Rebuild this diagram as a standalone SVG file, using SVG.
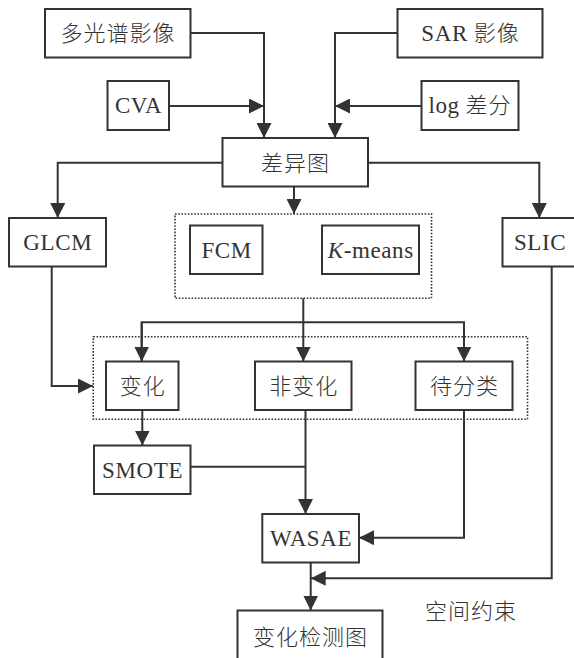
<svg xmlns="http://www.w3.org/2000/svg" width="574" height="658" viewBox="0 0 574 658">
<style>
.box{fill:#fff;stroke:#333;stroke-width:2}
.dot{fill:none;stroke:#333;stroke-width:1.6;stroke-dasharray:1.6,1.6}
.t{font-family:"Liberation Serif","Noto Sans CJK SC",serif;font-size:23px;fill:#333;text-anchor:middle;letter-spacing:0.6px}
.c{font-family:"Noto Sans CJK SC","Liberation Serif",sans-serif;font-size:22px;font-weight:300;fill:#333;text-anchor:middle;letter-spacing:1px}
.k{font-family:"Noto Sans CJK SC",sans-serif;font-size:22px;font-weight:300;letter-spacing:1px}
.ln{fill:none;stroke:#333;stroke-width:2}
</style>
<defs>
<marker id="ah" markerUnits="userSpaceOnUse" markerWidth="15" markerHeight="15" refX="14" refY="7" orient="auto" viewBox="0 0 14 14">
<path d="M0,0 L14,7 L0,14 z" fill="#333"/>
</marker>
</defs>
<rect class="dot" x="175" y="214" width="256.5" height="84.3"/>
<rect class="dot" x="93.3" y="336.7" width="434.2" height="82.6"/>
<g id="connectors">
<path class="ln" d="M190.5,33 H264 V138" marker-end="url(#ah)"/>
<path class="ln" d="M169,106 H264" marker-end="url(#ah)"/>
<path class="ln" d="M397.5,33 H335 V138" marker-end="url(#ah)"/>
<path class="ln" d="M421.5,106 H335" marker-end="url(#ah)"/>
<path class="ln" d="M222.5,162.7 H57.7 V218" marker-end="url(#ah)"/>
<path class="ln" d="M368,162.7 H539.3 V218" marker-end="url(#ah)"/>
<path class="ln" d="M294,186.5 V214" marker-end="url(#ah)"/>
<path class="ln" d="M51.7,266.5 V386 H93" marker-end="url(#ah)"/>
<path class="ln" d="M303.3,298.3 V361.5" marker-end="url(#ah)"/>
<path class="ln" d="M141.7,361.5 V322.3 H464 V361.5" marker-end="url(#ah)"/>
<path class="ln" d="M141.7,322.3 V361.5" marker-end="url(#ah)"/>
<path class="ln" d="M142.3,410 V445.5" marker-end="url(#ah)"/>
<path class="ln" d="M190.5,466.7 H305.5"/>
<path class="ln" d="M305.5,410 V514" marker-end="url(#ah)"/>
<path class="ln" d="M464,410 V537.7 H359" marker-end="url(#ah)"/>
<path class="ln" d="M310.7,562.5 V610.5" marker-end="url(#ah)"/>
<path class="ln" d="M551.7,266.5 V578.3 H310.7" marker-end="url(#ah)"/>
</g>
<g id="n_ms"><rect class="box" x="45" y="9" width="145.5" height="48.5"/><text class="c" x="118" y="41">多光谱影像</text></g>
<g id="n_sar"><rect class="box" x="397.5" y="9" width="145" height="48.5"/><text class="t" x="470.5" y="41">SAR<tspan class="k"> 影像</tspan></text></g>
<g id="n_cva"><rect class="box" x="107.5" y="81" width="61.5" height="49"/><text class="t" x="138.6" y="113.3">CVA</text></g>
<g id="n_log"><rect class="box" x="421.5" y="81" width="97" height="49"/><text class="t" x="470" y="113.3">log<tspan class="k"> 差分</tspan></text></g>
<g id="n_diff"><rect class="box" x="222.5" y="138" width="145.5" height="48.5"/><text class="c" x="295.5" y="170.5">差异图</text></g>
<g id="n_glcm"><rect class="box" x="9" y="218" width="97" height="48.5"/><text class="t" x="57.8" y="250">GLCM</text></g>
<g id="n_slic"><rect class="box" x="502.5" y="218" width="74" height="48.5"/><text class="t" x="540" y="250">SLIC</text></g>
<g id="n_fcm"><rect class="box" x="190" y="225.5" width="72.5" height="48.5"/><text class="t" x="226.6" y="257.5">FCM</text></g>
<g id="n_km"><rect class="box" x="322" y="225.5" width="97" height="48.5"/><text class="t" x="370.8" y="257.5"><tspan font-style="italic">K</tspan>-means</text></g>
<g id="n_chg"><rect class="box" x="106" y="361.5" width="72.5" height="48.5"/><text class="c" x="142.8" y="393.8">变化</text></g>
<g id="n_nchg"><rect class="box" x="255" y="361.5" width="96.5" height="48.5"/><text class="c" x="303.8" y="393.8">非变化</text></g>
<g id="n_unc"><rect class="box" x="415.5" y="361.5" width="97" height="48.5"/><text class="c" x="464.5" y="393.8">待分类</text></g>
<g id="n_smote"><rect class="box" x="94" y="445.5" width="96.5" height="48.5"/><text class="t" x="142.6" y="477.7">SMOTE</text></g>
<g id="n_wasae"><rect class="box" x="262.3" y="514" width="96.7" height="48.5"/><text class="t" x="311" y="546.2">WASAE</text></g>
<g id="n_out"><rect class="box" x="237.5" y="610.5" width="145" height="50"/><text class="c" x="310.5" y="644.5">变化检测图</text></g>
<text class="c" x="471" y="618.5">空间约束</text>
</svg>
